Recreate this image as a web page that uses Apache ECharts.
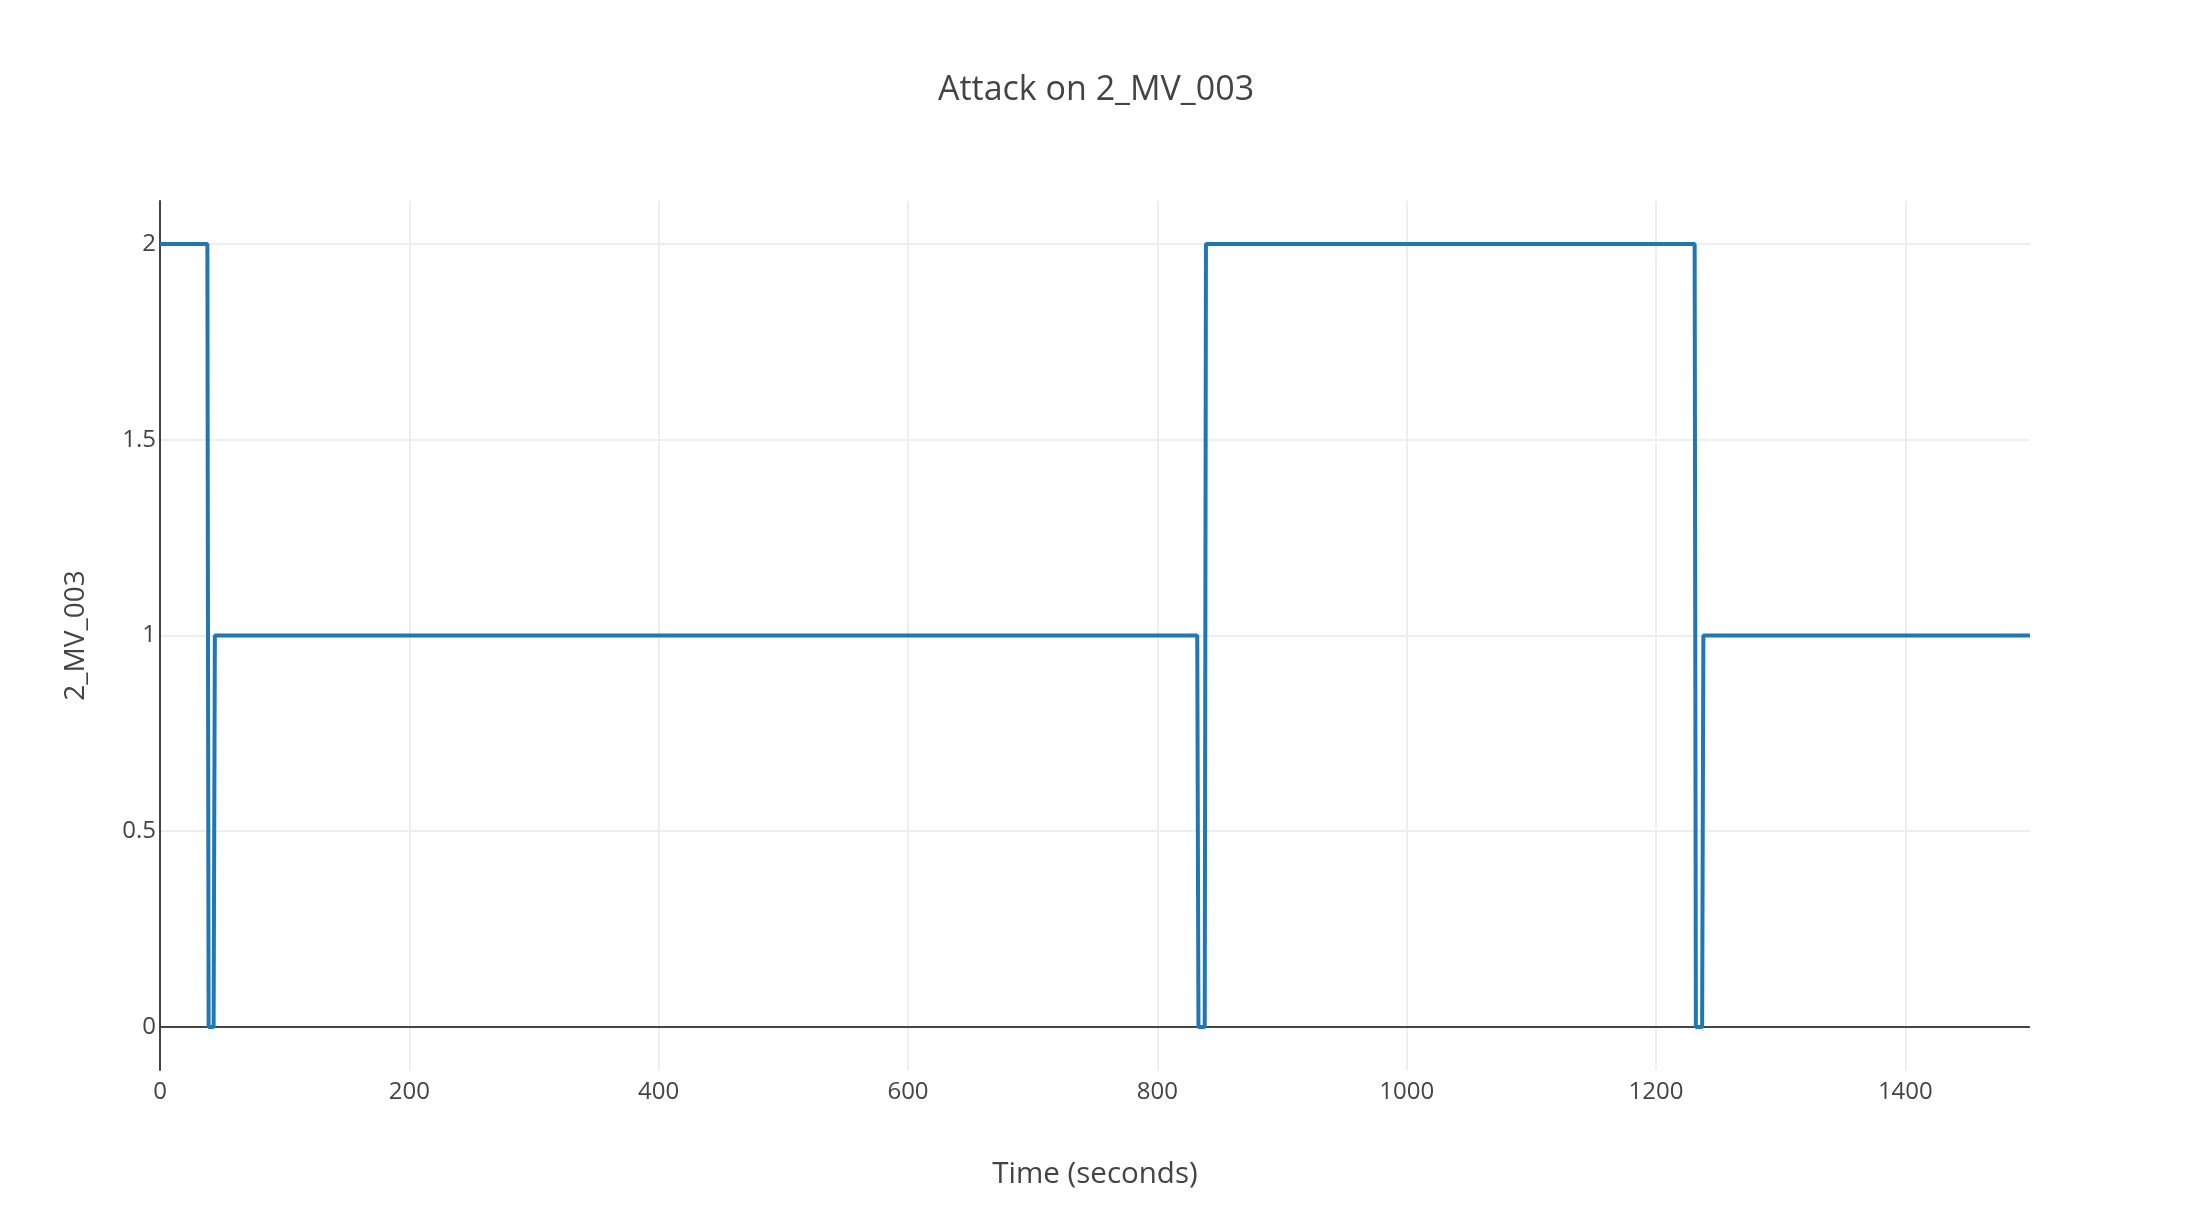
<!DOCTYPE html>
<html>
<head>
<meta charset="utf-8">
<script src="https://cdn.jsdelivr.net/npm/echarts@6/dist/echarts.min.js"></script>
<style>
html,body{margin:0;padding:0;background:#fff;}
#chart{width:2192px;height:1232px;}
</style>
</head>
<body>
<div id="chart"></div>
<script>
// Data (time in seconds, 2_MV_003 state)
const titleText = "Attack on 2_MV_003";
const xTitle = "Time (seconds)";
const yTitle = "2_MV_003";
const times  = [0, 38, 39, 43, 44, 832, 833, 838, 839, 1231, 1232, 1237, 1238, 1500];
const values = [2, 2,  0,  0,  1,  1,   0,   0,   2,   2,    0,    0,    1,    1];

const seriesData = times.map((t, i) => [t, values[i]]);

const chart = echarts.init(document.getElementById('chart'), null, {renderer: 'canvas'});
const font = '"Open Sans", "Noto Sans", sans-serif';
chart.setOption({
  animation: false,
  backgroundColor: '#ffffff',
  textStyle: {fontFamily: font, color: '#444'},
  title: {
    text: titleText,
    left: 'center',
    top: 68,
    textStyle: {fontFamily: font, fontSize: 34, fontWeight: 'normal', color: '#444'}
  },
  grid: {left: 160, right: 162, top: 201, bottom: 162},
  xAxis: {
    type: 'value',
    min: 0,
    max: 1500,
    minInterval: 200,
    maxInterval: 200,
    name: xTitle,
    nameLocation: 'middle',
    nameGap: 90,
    nameTextStyle: {fontFamily: font, fontSize: 29.5, color: '#444'},
    axisLine: {show: false, onZero: false},
    axisTick: {show: false},
    axisLabel: {fontFamily: font, fontSize: 24, color: '#444', margin: 10, showMaxLabel: false,
                formatter: v => String(v)},
    splitLine: {show: true, showMinLine: false, showMaxLine: false, lineStyle: {color: '#eeeeee', width: 2}}
  },
  yAxis: {
    type: 'value',
    min: -0.11,
    max: 2.11,
    minInterval: 0.5,
    maxInterval: 0.5,
    name: yTitle,
    nameLocation: 'middle',
    nameGap: 70,
    nameRotate: 90,
    nameTextStyle: {fontFamily: font, fontSize: 28, color: '#444'},
    axisLine: {show: true, lineStyle: {color: '#444', width: 2}},
    axisTick: {show: false},
    axisLabel: {fontFamily: font, fontSize: 24, color: '#444', margin: 4, showMinLabel: false, showMaxLabel: false,
                formatter: v => String(v)},
    splitLine: {show: true, showMinLine: false, showMaxLine: false, lineStyle: {color: '#eeeeee', width: 2}}
  },
  series: [{
    type: 'line',
    data: seriesData,
    showSymbol: false,
    symbol: 'none',
    lineStyle: {color: '#1f77b4', width: 4},
    itemStyle: {color: '#1f77b4'},
    markLine: {
      silent: true,
      symbol: 'none',
      label: {show: false},
      lineStyle: {color: '#444', width: 2, type: 'solid'},
      data: [{yAxis: 0}],
      z: 1
    }
  }]
});
</script>
</body>
</html>
